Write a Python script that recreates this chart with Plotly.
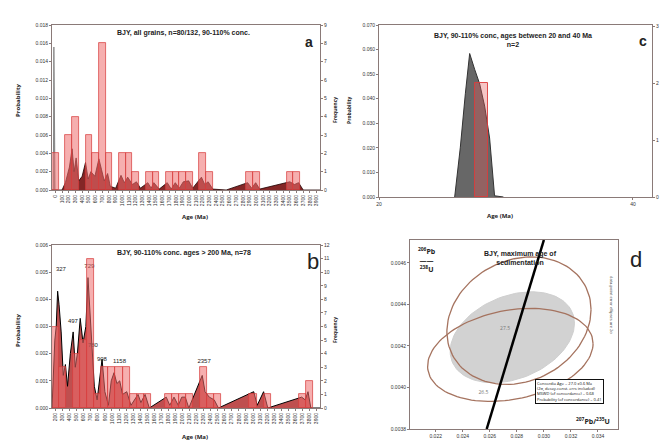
import numpy as np
import plotly.graph_objects as go

# ---------------- DATA ----------------
# Panel a: all grains (100-Ma bins)
a_bin_start = [0, 200, 300, 500, 600, 700, 800, 1000, 1100, 1200, 1400, 1500, 1700, 1800, 1900, 2000, 2200, 2300, 2900, 3000, 3500, 3600]
a_counts    = [2, 3, 4, 3, 2, 8, 2, 2, 2, 1, 1, 1, 1, 1, 1, 1, 2, 1, 1, 1, 1, 1]
a_pdp_age  = [0, 150, 200, 260, 300, 330, 360, 400, 450, 500, 540, 580, 640, 700, 740, 780, 830, 870, 950, 1030, 1080, 1130, 1200, 1260, 1320, 1430, 1480, 1520, 1600, 1720, 1780, 1840, 1900, 1960, 2040, 2100, 2230, 2280, 2330, 2400, 2600, 2920, 2980, 3040, 3100, 3550, 3620, 3680, 3750, 4000]
a_pdp_prob = [0, 0, 0.0008, 0.0025, 0.0045, 0.002, 0.0035, 0.001, 0.0015, 0.003, 0.0012, 0.002, 0.0015, 0.0034, 0.0022, 0.001, 0.0018, 0.0004, 0.0002, 0.0016, 0.0008, 0.0014, 0.0006, 0.0009, 0.0002, 0.0008, 0.0002, 0.0008, 0.0001, 0.0008, 0.0001, 0.0008, 0.0002, 0.0009, 0.0010, 0.0002, 0.0014, 0.0006, 0.0009, 0.0001, 0, 0.0008, 0.0002, 0.0008, 0.0001, 0.0009, 0.0006, 0.0008, 0, 0]
a_young_age  = [10, 20, 28, 36, 46]
a_young_prob = [0, 0, 0.0156, 0, 0]
a_tick_ages = list(range(0, 4000, 100))

# Panel b: ages > 200 Ma
b_bin_start = [200, 300, 500, 600, 700, 800, 900, 1000, 1100, 1200, 1300, 1400, 1500, 1800, 1900, 2000, 2100, 2300, 2400, 2500, 3000, 3200, 3700, 3800]
b_counts    = [6, 3, 4, 5, 11, 1, 3, 3, 3, 3, 1, 1, 1, 1, 1, 1, 1, 3, 1, 1, 1, 1, 1, 2]
b_pdp_age  = [200, 215, 240, 260, 280, 300, 330, 360, 390, 420, 460, 500, 530, 560, 600, 640, 680, 710, 740, 770, 800, 840, 880, 910, 950, 1000, 1040, 1080, 1120, 1160, 1200, 1260, 1320, 1420, 1460, 1520, 1580, 1820, 1870, 1930, 1990, 2040, 2090, 2140, 2330, 2370, 2430, 2500, 2560, 3060, 3110, 3200, 3260, 3740, 3790, 3830, 3870, 4000]
b_pdp_prob = [0, 0.001, 0.0025, 0.0030, 0.0043, 0.0038, 0.0028, 0.0012, 0.0016, 0.0008, 0.002, 0.0028, 0.0015, 0.0020, 0.0033, 0.0024, 0.0030, 0.0048, 0.0035, 0.0022, 0.0008, 0.0003, 0.0012, 0.0018, 0.0006, 0.0001, 0.0010, 0.0013, 0.0009, 0.0010, 0.0005, 0.0006, 0.0001, 0.0005, 0.0002, 0.0005, 0, 0.0004, 0.0001, 0.0004, 0.0001, 0.0004, 0.0004, 0, 0.0012, 0.0006, 0.0004, 0.0003, 0, 0.0006, 0.0001, 0.0006, 0, 0.0004, 0.0003, 0.0006, 0, 0]
b_peak_labels = ["327", "497", "729", "780", "908", "1158", "2357"]
b_peak_age    = [327, 497, 729, 780, 908, 1158, 2357]
b_peak_prob   = [0.0051, 0.0032, 0.0052, 0.0023, 0.0018, 0.0017, 0.0017]
b_tick_ages = list(range(200, 4000, 100))

# Panel c: ages between 20 and 40 Ma
c_bin_left, c_bin_right, c_count = 27.53, 28.58, 2
c_pdp_age  = [25.96, 26.4, 26.8, 27.14, 27.53, 27.93, 28.32, 28.71, 29.1, 29.8]
c_pdp_prob = [0, 0.02, 0.042, 0.0584, 0.052, 0.046, 0.037, 0.024, 0.0005, 0]

# Panel d: concordia (207Pb/235U, 206Pb/238U)
conc_x = [0.02577, 0.0300]
conc_y = [0.0038, 0.00471]
# ellipses: centre x, centre y, half-width x, half-height y, phase (deg)
ell_grain1 = [0.028157, 0.0043216, 0.00533, 0.000307, 80]
ell_grain2 = [0.027518, 0.0041568, 0.006118, 0.000224, 76]
ell_mean   = [0.027666, 0.0042416, 0.004595, 0.000219, 72]
ell_labels = ["27.5", "26.5"]
ell_label_x = [0.02713, 0.02553]
ell_label_y = [0.004285, 0.003973]


def ellipse(p):
    cx, cy, rx, ry, ph = p
    t = np.linspace(0, 2 * np.pi, 120)
    return cx + rx * np.cos(t), cy + ry * np.cos(t - np.radians(ph))


W, H = 667, 446
def px(x): return x / W
def py(y): return 1 - y / H

BAR_FILL = "rgba(238,110,110,0.55)"
BAR_LINE = "rgba(215,60,60,0.9)"
PDP_FILL = "rgba(110,0,0,0.85)"
FRAME = "#8a7a78"
TF = dict(family="Liberation Sans, Arial", size=5, color="#333")

fig = go.Figure()

# ---- panel a ----
fig.add_trace(go.Bar(x=[s + 50 for s in a_bin_start], y=a_counts, width=100,
                     marker=dict(color=BAR_FILL, line=dict(color=BAR_LINE, width=0.8)),
                     xaxis="x", yaxis="y2"))
fig.add_trace(go.Scatter(x=a_pdp_age, y=a_pdp_prob, mode="lines", fill="tozeroy",
                         fillcolor=PDP_FILL, line=dict(color="#200000", width=0.8),
                         xaxis="x", yaxis="y"))
fig.add_trace(go.Scatter(x=a_young_age, y=a_young_prob, mode="lines", fill="tozeroy",
                         fillcolor="rgba(130,130,130,0.9)", line=dict(color="#777", width=0.8),
                         xaxis="x", yaxis="y"))

# ---- panel b ----
fig.add_trace(go.Bar(x=[s + 50 for s in b_bin_start], y=b_counts, width=100,
                     marker=dict(color=BAR_FILL, line=dict(color=BAR_LINE, width=0.8)),
                     xaxis="x3", yaxis="y4"))
fig.add_trace(go.Scatter(x=b_pdp_age, y=b_pdp_prob, mode="lines", fill="tozeroy",
                         fillcolor="rgba(170,20,20,0.75)", line=dict(color="#000", width=1),
                         xaxis="x3", yaxis="y3"))
fig.add_trace(go.Scatter(x=b_peak_age, y=b_peak_prob, mode="text", text=b_peak_labels,
                         textfont=dict(family="Liberation Sans", size=6, color="#222"),
                         xaxis="x3", yaxis="y3"))

# ---- panel c ----
fig.add_trace(go.Scatter(x=c_pdp_age, y=c_pdp_prob, mode="lines", fill="tozeroy",
                         fillcolor="rgba(95,95,95,0.95)", line=dict(color="#333", width=1),
                         xaxis="x5", yaxis="y5"))
fig.add_trace(go.Bar(x=[(c_bin_left + c_bin_right) / 2], y=[c_count], width=c_bin_right - c_bin_left,
                     marker=dict(color="rgba(230,90,90,0.35)", line=dict(color="rgba(220,60,60,0.9)", width=1)),
                     xaxis="x5", yaxis="y6"))

# ---- panel d ----
mx, my = ellipse(ell_mean)
fig.add_trace(go.Scatter(x=mx, y=my, mode="lines", fill="toself", fillcolor="#d2d2d2",
                         line=dict(color="#cfcfcf", width=1), xaxis="x7", yaxis="y7"))
for e in (ell_grain1, ell_grain2):
    ex, ey = ellipse(e)
    fig.add_trace(go.Scatter(x=ex, y=ey, mode="lines", line=dict(color="rgb(165,115,95)", width=1.3),
                             xaxis="x7", yaxis="y7"))
fig.add_trace(go.Scatter(x=conc_x, y=conc_y, mode="lines", line=dict(color="#000", width=2.5),
                         xaxis="x7", yaxis="y7"))
fig.add_trace(go.Scatter(x=ell_label_x, y=ell_label_y, mode="text", text=ell_labels,
                         textfont=dict(size=5, color="#777"), xaxis="x7", yaxis="y7"))

ax_common = dict(showgrid=False, zeroline=False, showline=True, linecolor=FRAME, linewidth=1,
                 ticks="outside", ticklen=2, tickcolor=FRAME, tickfont=TF, automargin=False)

layout = dict(
    template="none",
    width=W, height=H, margin=dict(l=0, r=0, t=0, b=0, pad=0), autosize=False,
    paper_bgcolor="white", plot_bgcolor="white", showlegend=False, bargap=0, barmode="overlay",
    # a
    xaxis=dict(domain=[px(52), px(320)], range=[0, 4000], anchor="y", mirror=True,
               tickvals=[t + 50 for t in a_tick_ages], ticktext=[str(t) for t in a_tick_ages],
               tickangle=-90, **ax_common),
    yaxis=dict(domain=[py(190), py(25)], range=[0, 0.018], dtick=0.002, tickformat=".3f",
               anchor="x", **ax_common),
    yaxis2=dict(range=[0, 9], dtick=1, overlaying="y", side="right", anchor="x", **ax_common),
    # b
    xaxis3=dict(domain=[px(52), px(320)], range=[200, 4000], anchor="y3", mirror=True,
                tickvals=[t + 50 for t in b_tick_ages], ticktext=[str(t) for t in b_tick_ages],
                tickangle=-90, **ax_common),
    yaxis3=dict(domain=[py(408), py(245)], range=[0, 0.006], dtick=0.001, tickformat=".3f",
                anchor="x3", **ax_common),
    yaxis4=dict(range=[0, 12], dtick=1, overlaying="y3", side="right", anchor="x3", **ax_common),
    # c
    xaxis5=dict(domain=[px(379), px(652)], range=[20, 41.5], anchor="y5", mirror=True,
                tickvals=[20, 40], **ax_common),
    yaxis5=dict(domain=[py(197), py(25)], range=[0, 0.07], dtick=0.01, tickformat=".3f",
                anchor="x5", **ax_common),
    yaxis6=dict(range=[0, 3.03], dtick=1, overlaying="y5", side="right", anchor="x5", **ax_common),
    # d
    xaxis7=dict(domain=[px(410), px(618)], range=[0.0201, 0.03548], anchor="y7", mirror=True,
                tickvals=[0.020, 0.022, 0.024, 0.026, 0.028, 0.030, 0.032, 0.034], tickformat=".3f",
                **ax_common),
    yaxis7=dict(domain=[py(429), py(240)], range=[0.0038, 0.00471], anchor="x7", mirror=True,
                tickvals=[0.0038, 0.0040, 0.0042, 0.0044, 0.0046], tickformat=".4f", **ax_common),
)
fig.update_layout(**layout)

TFONT = dict(family="Liberation Sans, Arial", size=7, color="#222")
ann = [
    dict(x=px(183), y=py(33), text="<b>BJY, all grains, n=80/132, 90-110% conc.</b>", font=TFONT),
    dict(x=px(309), y=py(42), text="<b>a</b>", font=dict(family="Liberation Sans", size=14, color="#222")),
    dict(x=px(184), y=py(253), text="<b>BJY, 90-110% conc. ages > 200 Ma, n=78</b>", font=TFONT),
    dict(x=px(313), y=py(261), text="b", font=dict(family="Liberation Sans", size=22, color="#222")),
    dict(x=px(513), y=py(40), text="<b>BJY, 90-110% conc, ages between 20 and 40 Ma<br>n=2</b>", font=TFONT),
    dict(x=px(643), y=py(41), text="<b>c</b>", font=dict(family="Liberation Sans", size=14, color="#222")),
    dict(x=px(520), y=py(258), text="<b>BJY, maximum age of<br>sedimentation</b>", font=TFONT),
    dict(x=px(636), y=py(259), text="d", font=dict(family="Liberation Sans", size=22, color="#222")),
    dict(x=px(427), y=py(260), text="<b><sup>206</sup>Pb<br>――<br><sup>238</sup>U</b>", font=dict(size=7, color="#222")),
    dict(x=px(593), y=py(421), text="<b><sup>207</sup>Pb/<sup>235</sup>U</b>", font=dict(size=7, color="#222")),
    dict(x=px(612), y=py(305), text="data-point error ellipses are 2σ", textangle=90, font=dict(size=4, color="#444")),
    dict(x=px(569), y=py(391), text="Concordia Age = 27.0 ±0.6 Ma<br>(2σ, decay-const. errs included)<br>MSWD (of concordance) = 0.68<br>Probability (of concordance) = 0.41",
         font=dict(size=4, color="#111"), bordercolor="#111", borderwidth=1, bgcolor="white", align="left"),
    dict(x=px(18), y=py(100), text="<b>Probability</b>", textangle=-90, font=dict(size=6, color="#222")),
    dict(x=px(335), y=py(110), text="<b>Frequency</b>", textangle=-90, font=dict(size=5, color="#222")),
    dict(x=px(18), y=py(330), text="<b>Probability</b>", textangle=-90, font=dict(size=6, color="#222")),
    dict(x=px(335), y=py(330), text="<b>Frequency</b>", textangle=-90, font=dict(size=5, color="#222")),
    dict(x=px(349), y=py(110), text="<b>Probability</b>", textangle=-90, font=dict(size=5, color="#222")),
    dict(x=px(195), y=py(217), text="<b>Age (Ma)</b>", font=dict(size=6, color="#222")),
    dict(x=px(195), y=py(437), text="<b>Age (Ma)</b>", font=dict(size=6, color="#222")),
    dict(x=px(500), y=py(216), text="<b>Age (Ma)</b>", font=dict(size=6, color="#222")),
]
for a in ann:
    a.setdefault("showarrow", False)
    a["xref"] = "paper"
    a["yref"] = "paper"
    a["xanchor"] = "center"
    a["yanchor"] = "middle"
fig.update_layout(annotations=ann)

fig.write_html("out.html", config={"displayModeBar": False},
               post_script="document.body.style.margin='0';document.body.style.overflow='hidden';")
